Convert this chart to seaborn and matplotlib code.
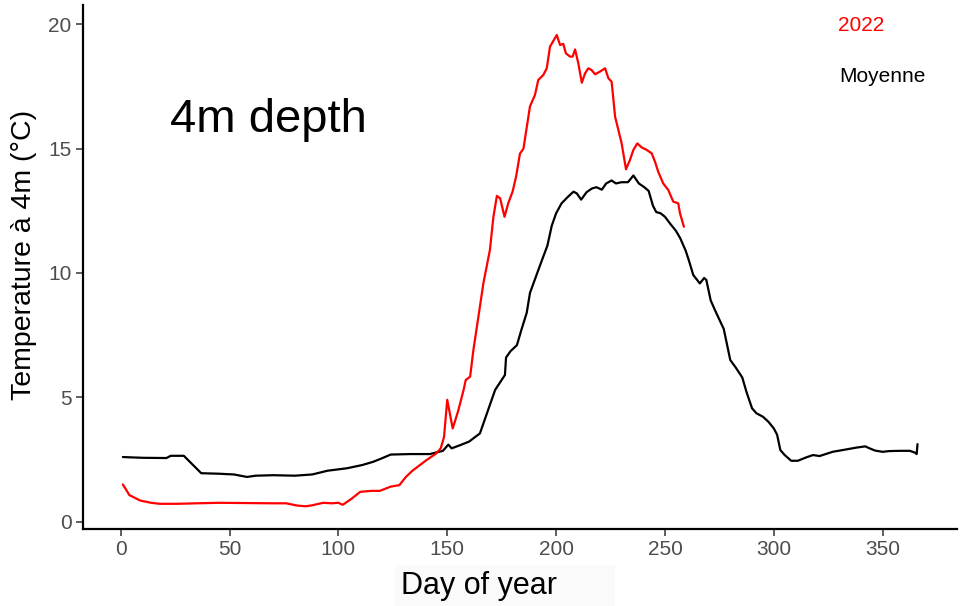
import matplotlib
matplotlib.use("Agg")
import matplotlib.pyplot as plt
import seaborn as sns
import pandas as pd
from matplotlib.patches import Rectangle

# ---- data ----
avg_day = [1, 10, 21, 23, 29, 33, 37, 45, 52, 58, 62, 70, 80, 88, 95, 104, 111, 116, 120,
           124, 133, 142, 148, 150.5, 152, 156, 160, 165, 167, 170, 172, 175, 176.5, 177,
           179, 182, 184, 186.5, 188, 190.5, 193, 196, 198, 200, 202.5, 205.5, 208, 209.5,
           211.5, 214, 216.5, 218.5, 221, 223, 225.5, 227.5, 230, 233, 235.5, 238, 240.5,
           242.5, 244.5, 246, 248, 250, 252.5, 255, 257, 259.5, 261, 263, 266, 268, 269,
           271, 273, 277, 280, 282.5, 285.5, 287.5, 290, 292, 295, 297.5, 300, 301.5, 303,
           305, 308, 311, 315, 318, 321, 327, 333.5, 338, 342, 344, 346.5, 350, 353, 358,
           362.5, 365, 365.6, 366]
avg_temp = [2.6, 2.57, 2.56, 2.65, 2.65, 2.3, 1.95, 1.93, 1.9, 1.8, 1.85, 1.87, 1.85, 1.9,
            2.05, 2.15, 2.28, 2.41, 2.55, 2.7, 2.72, 2.72, 2.85, 3.1, 2.95, 3.08, 3.22, 3.55,
            4.05, 4.8, 5.3, 5.7, 5.9, 6.6, 6.85, 7.1, 7.7, 8.4, 9.2, 9.8, 10.4, 11.1, 11.9,
            12.4, 12.8, 13.07, 13.27, 13.2, 12.95, 13.25, 13.4, 13.45, 13.35, 13.6, 13.72,
            13.6, 13.65, 13.65, 13.92, 13.6, 13.45, 13.3, 12.7, 12.45, 12.4, 12.26, 11.97,
            11.7, 11.4, 10.9, 10.5, 9.92, 9.58, 9.8, 9.72, 8.9, 8.5, 7.75, 6.5, 6.2, 5.8,
            5.2, 4.56, 4.36, 4.22, 4.02, 3.75, 3.5, 2.88, 2.68, 2.45, 2.45, 2.59, 2.68,
            2.64, 2.81, 2.91, 2.98, 3.03, 2.95, 2.86, 2.81, 2.84, 2.85, 2.85, 2.77, 2.72,
            3.12]

y2022_day = [1, 4, 9, 14, 18, 26, 35, 45, 58, 70, 76, 81, 85, 88, 93, 97, 100, 102, 106,
             110, 115, 119, 124, 128, 131, 134, 140.5, 145, 147, 148.5, 150, 152.5, 155,
             157.5, 158.5, 160.5, 162, 164.3, 166.6, 169.6, 171.2, 172.8, 174.3, 176.3, 178,
             180, 181.6, 183.4, 185, 188, 190.3, 191.8, 194.1, 195.7, 197.2, 200.3, 201.8,
             203.3, 204.5, 206.4, 207.6, 208.7, 210.2, 211.8, 213.3, 214.8, 216.3, 217.9,
             220.2, 222.5, 224, 225.5, 227.1, 228.6, 230.1, 232.1, 233.9, 235.5, 237.3,
             239.3, 241.6, 243.9, 245.4, 246.9, 249.2, 251.5, 253.8, 256.1, 256.9, 258.7]
y2022_temp = [1.5, 1.07, 0.85, 0.76, 0.72, 0.72, 0.74, 0.76, 0.75, 0.74, 0.74, 0.65, 0.62,
              0.66, 0.76, 0.74, 0.76, 0.68, 0.92, 1.2, 1.24, 1.24, 1.41, 1.47, 1.8, 2.05,
              2.48, 2.75, 2.95, 3.4, 4.9, 3.75, 4.45, 5.3, 5.7, 5.83, 6.9, 8.24, 9.59, 10.93,
              12.26, 13.1, 13.0, 12.26, 12.8, 13.27, 13.87, 14.8, 15.0, 16.7, 17.16, 17.76,
              17.96, 18.23, 19.1, 19.57, 19.17, 19.21, 18.83, 18.7, 18.7, 18.99, 18.43,
              17.65, 18.03, 18.23, 18.16, 17.99, 18.1, 18.23, 17.83, 17.69, 16.28, 15.75,
              15.21, 14.17, 14.54, 14.95, 15.21, 15.05, 14.95, 14.81, 14.48, 14.07, 13.6,
              13.34, 12.87, 12.8, 12.4, 11.86]

x_ticks = [0, 50, 100, 150, 200, 250, 300, 350]
y_ticks = [0, 5, 10, 15, 20]

df = pd.concat([
    pd.DataFrame({"day": avg_day, "temp": avg_temp, "series": "Moyenne"}),
    pd.DataFrame({"day": y2022_day, "temp": y2022_temp, "series": "2022"}),
], ignore_index=True)

sns.set_theme(style="white")
plt.rcParams["font.family"] = ["Liberation Sans", "DejaVu Sans"]

fig = plt.figure(figsize=(9.62, 6.06), dpi=100)
ax = fig.add_axes([82.7 / 962, 77 / 606, 874 / 962, 524 / 606])

sns.lineplot(data=df, x="day", y="temp", hue="series",
             palette={"Moyenne": "black", "2022": "#FF0000"},
             hue_order=["Moyenne", "2022"],
             estimator=None, sort=False, legend=False, linewidth=1.6, ax=ax)

ax.set_xlim(-17.45, 384.0)
ax.set_ylim(-0.293, 20.775)
ax.set_xticks(x_ticks)
ax.set_yticks(y_ticks)
ax.tick_params(axis="both", which="major", length=5, width=1.1, color="#333333",
               labelsize=15, labelcolor="#4D4D4D", pad=3, direction="out",
               bottom=True, left=True)
sns.despine(ax=ax)
for s in ("left", "bottom"):
    ax.spines[s].set_color("black")
    ax.spines[s].set_linewidth(1.6)

ax.set_xlabel("")
ax.set_ylabel("Temperature à 4m (°C)", fontsize=20.5, color="black")
ax.yaxis.set_label_coords((37 - 82.7) / 874, (529 - 255) / 524)

ax.text(68, 16.15, "4m depth", fontsize=34, color="black", ha="center", va="center")
ax.text(340, 19.96, "2022", fontsize=15, color="#FF0000", ha="center", va="center")
ax.text(350, 17.9, "Moyenne", fontsize=15, color="black", ha="center", va="center")

# faint box behind the x title, as in the reference
fig.patches.append(Rectangle((395 / 962, 0), 220 / 962, 41 / 606,
                             transform=fig.transFigure, facecolor="#FAFAFA",
                             edgecolor="none", zorder=0))
fig.text(479 / 962, 1 - 586 / 606, "Day of year", fontsize=22, color="black",
         ha="center", va="center")

fig.savefig("out.png", dpi=100)
